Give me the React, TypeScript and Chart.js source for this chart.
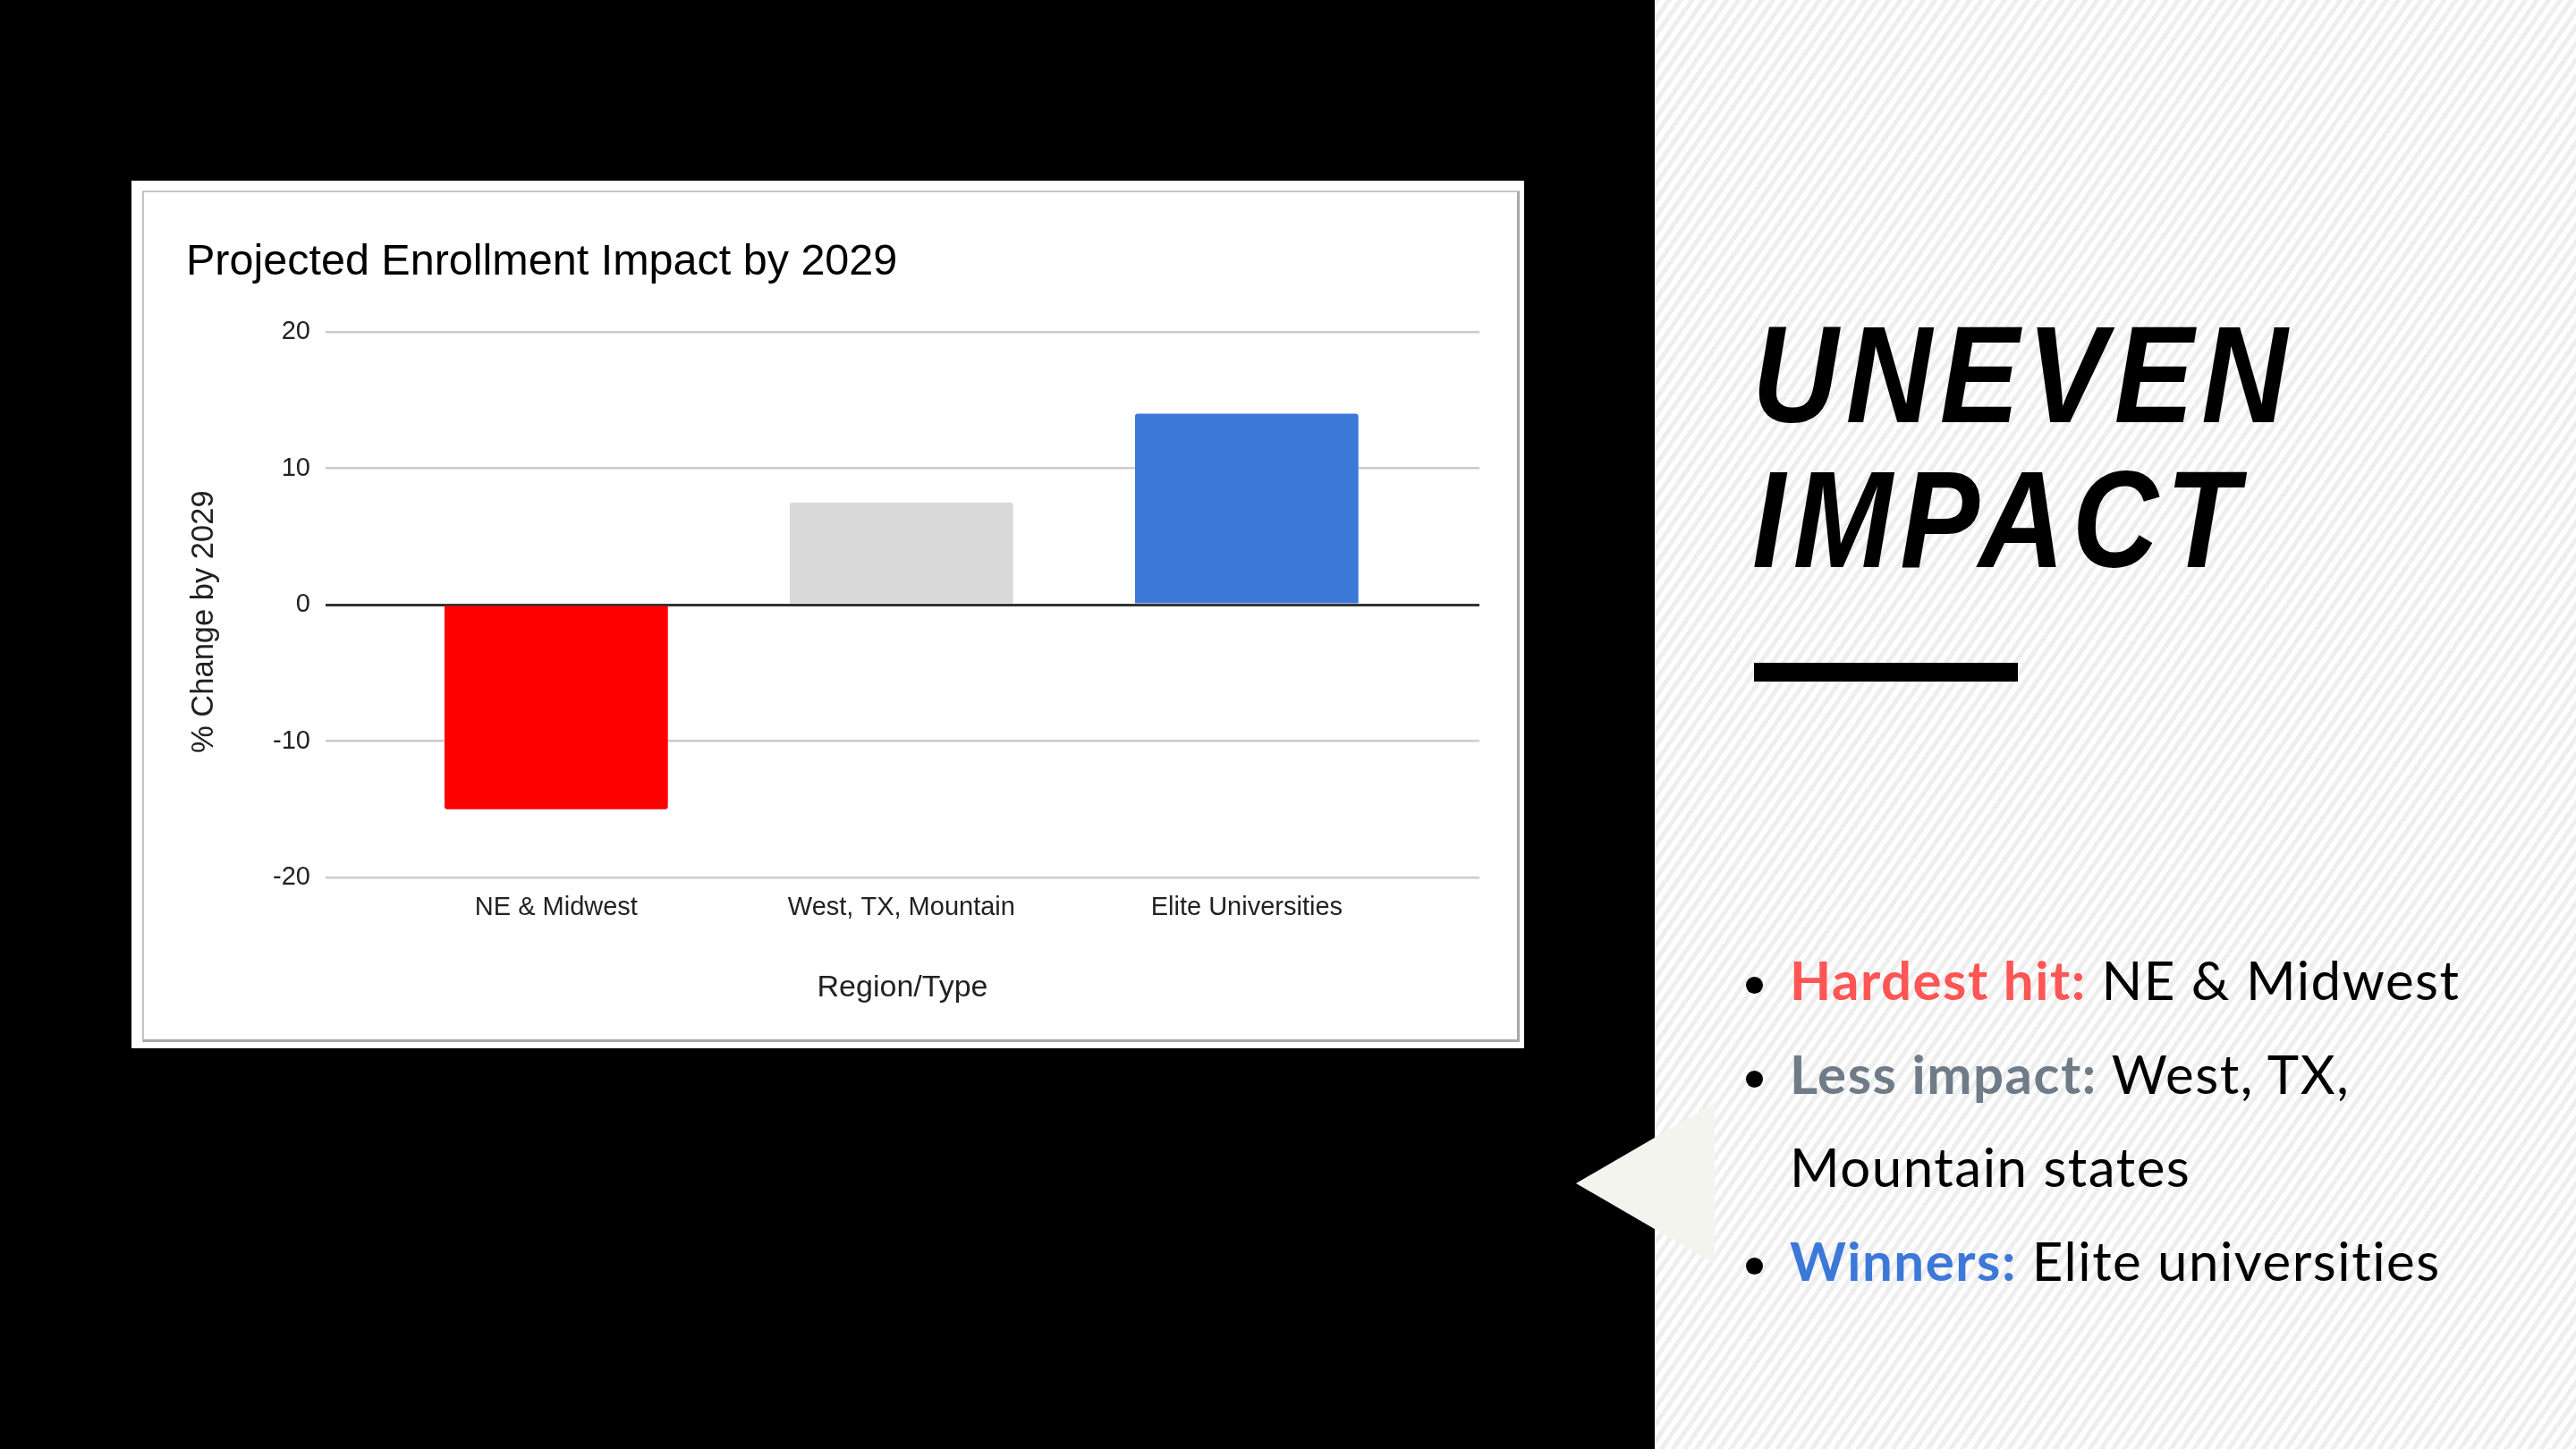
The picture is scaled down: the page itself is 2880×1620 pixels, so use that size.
import { useEffect, useRef } from 'react';
import { Chart, registerables } from 'chart.js';

Chart.register(...registerables);

// chart data
const categories = ['NE & Midwest', 'West, TX, Mountain', 'Elite Universities'];
const changes = [-15, 7.5, 14];
const barColors = ['#ff0000', '#d9d9d9', '#3c78d8'];
const yMin = -20;
const yMax = 20;
const yStep = 10;

const FONT = "'Liberation Sans', Arial, Helvetica, sans-serif";

function EnrollmentChart() {
    const canvasRef = useRef<HTMLCanvasElement | null>(null);
    const chartRef = useRef<Chart | null>(null);

    useEffect(() => {
        if (!canvasRef.current) return;
        if (chartRef.current) {
            chartRef.current.destroy();
            chartRef.current = null;
        }

        chartRef.current = new Chart(canvasRef.current, {
            type: 'bar',
            data: {
                datasets: [{
                    data: categories.map((_, i) => ({ x: i, y: changes[i] })),
                    backgroundColor: barColors,
                    borderRadius: 3,
                    borderSkipped: 'start',
                    categoryPercentage: 1,
                    barPercentage: 0.647,
                }],
            },
            options: {
                animation: false,
                responsive: true,
                maintainAspectRatio: false,
                devicePixelRatio: 1,
                layout: { padding: { left: 45, right: 40, top: 0, bottom: 33 } },
                plugins: {
                    legend: { display: false },
                    tooltip: { enabled: false },
                    title: {
                        display: true,
                        text: 'Projected Enrollment Impact by 2029',
                        align: 'start',
                        color: '#000',
                        font: { family: FONT, size: 48.5, weight: 'normal', lineHeight: 1.2 },
                        padding: { top: 47.9, bottom: 47.9 },
                    },
                },
                scales: {
                    x: {
                        type: 'linear',
                        min: -0.668,
                        max: 2.674,
                        bounds: 'data',
                        offset: false,
                        grid: { display: false, drawTicks: false },
                        border: { display: false },
                        afterBuildTicks: (scale: any) => {
                            scale.ticks = categories.map((_, i) => ({ value: i }));
                        },
                        afterFit: (scale: any) => { scale.height = 146; },
                        ticks: {
                            autoSkip: false,
                            maxRotation: 0,
                            padding: 16.2,
                            color: '#222',
                            font: { family: FONT, size: 29, lineHeight: 1.2 },
                            callback: (value: any) => categories[value] ?? '',
                        },
                        title: {
                            display: true,
                            text: 'Region/Type',
                            color: '#222',
                            font: { family: FONT, size: 34, lineHeight: 1.2 },
                            padding: { top: 0, bottom: 2.4 },
                        },
                    },
                    y: {
                        min: yMin,
                        max: yMax,
                        afterFit: (scale: any) => { scale.width = 156; },
                        ticks: {
                            stepSize: yStep,
                            padding: 17,
                            color: '#222',
                            font: { family: FONT, size: 29 },
                        },
                        grid: {
                            drawTicks: false,
                            color: (ctx: any) => (ctx.tick && ctx.tick.value === 0 ? '#333333' : '#cccccc'),
                            lineWidth: (ctx: any) => (ctx.tick && ctx.tick.value === 0 ? 3 : 2.5),
                        },
                        border: { display: false },
                        title: {
                            display: true,
                            // trailing spaces nudge the label below the axis centre, as in the original
                            text: '% Change by 2029    ',
                            color: '#222',
                            font: { family: FONT, size: 34.5, lineHeight: 0.65 },
                            padding: { top: 9, bottom: 0 },
                        },
                    },
                },
            },
        } as any);

        return () => {
            if (chartRef.current) {
                chartRef.current.destroy();
                chartRef.current = null;
            }
        };
    }, []);

    return (
        <div style={{ position: 'absolute', left: 163, top: 217, width: 1531, height: 943 }}>
            <canvas ref={canvasRef}></canvas>
        </div>
    );
}

const dot = (top: number) => (
    <span style={{
        position: 'absolute', left: -49, top, width: 19, height: 19,
        borderRadius: '50%', background: '#000',
    }} />
);

export default function App() {
    return (
        <div style={{
            position: 'absolute', left: 0, top: 0, width: 2880, height: 1620,
            overflow: 'hidden', background: '#000',
        }}>
            {/* striped right panel */}
            <div style={{
                position: 'absolute', left: 1850, top: 0, width: 1030, height: 1620,
                background: 'repeating-linear-gradient(125deg, #eeeeee 0px, #eeeeee 5px, #ffffff 5px, #ffffff 10.6px)',
            }} />

            {/* pointer */}
            <div style={{
                position: 'absolute', left: 1762, top: 1233, width: 155, height: 180,
                background: '#f4f4ef', clipPath: 'polygon(0 50%, 100% 0, 100% 100%)',
            }} />

            {/* chart card */}
            <div style={{ position: 'absolute', left: 147, top: 202, width: 1557, height: 970, background: '#fff' }} />
            <div style={{
                position: 'absolute', left: 159, top: 213, width: 1540, height: 952, boxSizing: 'border-box',
                borderTop: '2px solid #c4c4c4', borderLeft: '2px solid #c4c4c4',
                borderRight: '3px solid #a8a8a8', borderBottom: '3px solid #a8a8a8',
            }} />
            <EnrollmentChart />

            {/* heading */}
            <div style={{
                position: 'absolute', left: 1959, top: 338, fontFamily: FONT, fontWeight: 'bold',
                fontStyle: 'italic', fontSize: 154, lineHeight: '162px', letterSpacing: 10,
                color: '#000', transform: 'scaleX(0.865)', transformOrigin: 'left top', whiteSpace: 'nowrap',
            }}>
                UNEVEN<br />IMPACT
            </div>
            <div style={{ position: 'absolute', left: 1961, top: 741, width: 295, height: 21, background: '#000' }} />

            {/* bullets */}
            <div style={{
                position: 'absolute', left: 2001, top: 1043, fontFamily: "Lato, 'Open Sans', sans-serif",
                fontSize: 60, lineHeight: '104.67px', letterSpacing: 1.5, fontVariantLigatures: 'none',
                color: '#000', whiteSpace: 'nowrap',
            }}>
                <div style={{ position: 'relative' }}>
                    {dot(49)}
                    <span style={{ color: '#ff5555', fontWeight: 700 }}>Hardest hit:</span> NE &amp; Midwest
                </div>
                <div style={{ position: 'relative' }}>
                    {dot(49)}
                    <span style={{ color: '#707b88', fontWeight: 700 }}>Less impact:</span> West, TX,<br />Mountain states
                </div>
                <div style={{ position: 'relative' }}>
                    {dot(49)}
                    <span style={{ color: '#3c78d8', fontWeight: 700 }}>Winners:</span> Elite universities
                </div>
            </div>
        </div>
    );
}
